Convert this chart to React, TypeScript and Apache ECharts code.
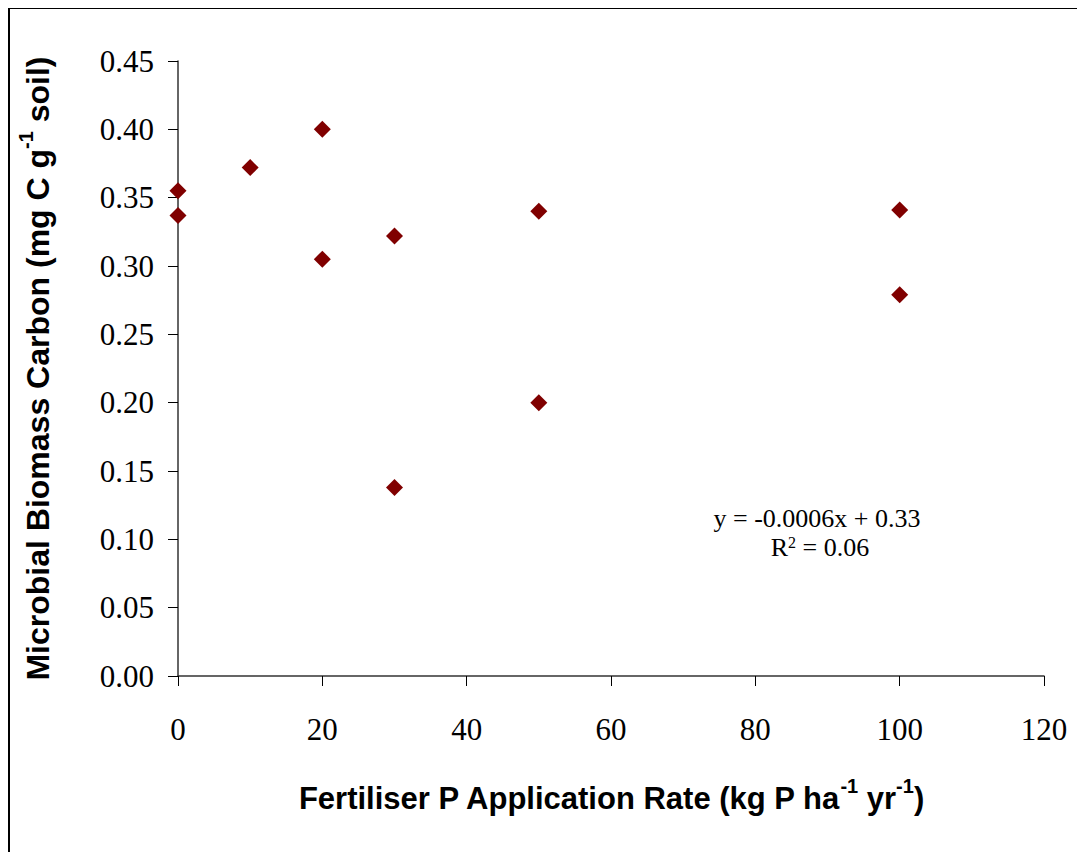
import React, { useEffect, useRef } from "react";
import * as echarts from "echarts";

const xValues = [0, 0, 10, 20, 20, 30, 30, 50, 50, 100, 100];
const yValues = [0.355, 0.337, 0.372, 0.400, 0.305, 0.322, 0.138, 0.340, 0.200, 0.341, 0.279];
const yTicks = { min: 0, max: 0.45, interval: 0.05 };
const xTicks = { min: 0, max: 120, interval: 20 };
const equation = "y = -0.0006x + 0.33";
const rSquared = "0.06";

export default function App() {
  const ref = useRef<HTMLDivElement>(null);
  useEffect(() => {
    if (!ref.current) return;
    const chart = echarts.init(ref.current, null, { renderer: "svg" });
    const serif = "'Liberation Serif', 'Times New Roman', serif";
    const sans = "'Liberation Sans', Arial, sans-serif";
    chart.setOption({
      animation: false,
      backgroundColor: "#ffffff",
      grid: { left: 170, right: 41, top: 53, bottom: 178, containLabel: false },
      xAxis: {
        type: "value",
        min: xTicks.min,
        max: xTicks.max,
        interval: xTicks.interval,
        splitLine: { show: false },
        axisLine: { onZero: false, lineStyle: { color: "#333", width: 1.5 } },
        axisTick: { show: true, inside: false, length: 10, lineStyle: { color: "#000", width: 1 } },
        axisLabel: { margin: 38, fontFamily: serif, fontSize: 31, color: "#000" },
        name: "{b|Fertiliser P Application Rate (kg P ha}{s|-1}{b| yr}{s|-1}{b|)}",
        nameLocation: "middle",
        nameGap: 100,
        nameTextStyle: {
          rich: {
            b: { fontFamily: sans, fontWeight: "bold", fontSize: 31, color: "#000", lineHeight: 38, verticalAlign: "bottom" },
            s: { fontFamily: sans, fontWeight: "bold", fontSize: 20, color: "#000", lineHeight: 38, verticalAlign: "top", padding: [0, 0, 16, 0] },
          },
        },
      },
      yAxis: {
        type: "value",
        min: yTicks.min,
        max: yTicks.max,
        interval: yTicks.interval,
        splitLine: { show: false },
        axisLine: { lineStyle: { color: "#333", width: 1.5 } },
        axisTick: { show: true, inside: false, length: 10, lineStyle: { color: "#000", width: 1 } },
        axisLabel: {
          margin: 24,
          fontFamily: serif,
          fontSize: 31,
          color: "#000",
          formatter: (v: number) => v.toFixed(2),
        },
        name: "{b|Microbial Biomass Carbon (mg C g}{s|-1}{b| soil)}",
        nameLocation: "middle",
        nameGap: 124,
        nameRotate: 90,
        nameTextStyle: {
          rich: {
            b: { fontFamily: sans, fontWeight: "bold", fontSize: 32, color: "#000", lineHeight: 38, verticalAlign: "bottom" },
            s: { fontFamily: sans, fontWeight: "bold", fontSize: 20, color: "#000", lineHeight: 38, verticalAlign: "top", padding: [0, 0, 16, 0] },
          },
        },
      },
      series: [
        {
          type: "scatter",
          symbol: "diamond",
          symbolSize: 17,
          itemStyle: { color: "#800000", opacity: 1 },
          data: xValues.map((x, i) => [x, yValues[i]]),
        },
      ],
      graphic: [
        {
          type: "line",
          shape: { x1: 1, y1: 0, x2: 1, y2: 860 },
          style: { stroke: "#000", lineWidth: 2 },
        },
        {
          type: "line",
          shape: { x1: 0, y1: 0, x2: 1090, y2: 0 },
          style: { stroke: "#000", lineWidth: 2 },
        },
        {
          type: "text",
          x: 809,
          y: 497,
          style: {
            text: equation,
            font: `26px ${serif}`,
            fill: "#000",
            textAlign: "center",
          },
        },
        {
          type: "text",
          x: 812,
          y: 526,
          style: {
            text: "{a|R}{s|2}{a| = " + rSquared + "}",
            textAlign: "center",
            rich: {
              a: { fontFamily: serif, fontSize: 26, fill: "#000", lineHeight: 26, verticalAlign: "bottom" },
              s: { fontFamily: serif, fontSize: 16, fill: "#000", lineHeight: 26, verticalAlign: "top", padding: [0, 0, 9, 0] },
            },
          },
        },
      ],
    });
    return () => chart.dispose();
  }, []);
  return <div ref={ref} style={{ width: 1077, height: 846 }} />;
}
